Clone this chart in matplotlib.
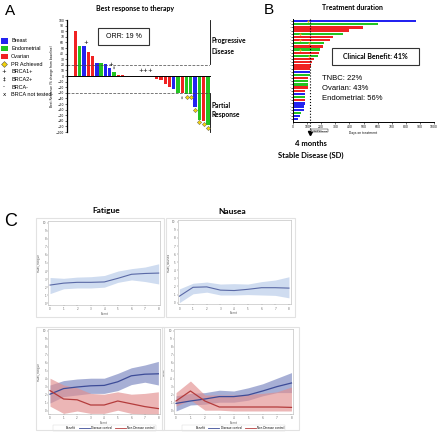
import matplotlib
matplotlib.use('Agg')
import matplotlib.pyplot as plt
from matplotlib.patches import Rectangle
from matplotlib.lines import Line2D

W, H = 440, 432
BOLD = 'Lato'
SANS = 'Liberation Sans'

# ---- panel A: best response (% change from baseline), one bar per patient
resp_values = [80, 54, 54, 42, 35, 24, 24, 22, 15, 8, 2, 1,
               0, 0, 0, 0, 0, 0, 0,
               -6, -8, -14, -20, -23, -30, -30, -33, -33, -55, -78, -80, -87]
resp_types = ['O', 'E', 'B', 'O', 'O', 'B', 'E', 'B', 'B', 'E', 'O', 'O',
              'O', 'O', 'O', 'O', 'O', 'O', 'O',
              'O', 'O', 'O', 'O', 'B', 'E', 'O', 'E', 'E', 'B', 'E', 'O', 'E']
pr_bars = [26, 27, 28, 29, 30, 31]
brca1_bars = [2, 8, 15, 16, 17]
brca2_bars = [9, 25]

# ---- panel B: treatment duration (days), one row per patient
dur_days = [873, 606, 493, 394, 358, 283, 264, 219, 212, 193, 184, 175, 146, 137, 127, 123,
            123, 123, 108, 106, 106, 104, 87, 87, 87, 83, 83, 75, 75, 59, 50, 35]
dur_types = ['B', 'E', 'O', 'O', 'E', 'O', 'O', 'E', 'O', 'E', 'O', 'E', 'O', 'O', 'O', 'O',
             'B', 'E', 'O', 'E', 'E', 'O', 'O', 'B', 'E', 'O', 'B', 'B', 'B', 'E', 'B', 'B']
pr_rows = [0, 4, 6, 7, 9, 11]
pr_days = [106, 52, 52, 110, 52, 110]

# ---- panel C: symptom scores by event
events = [0, 1, 2, 3, 4, 5, 6, 7, 8]
fat_all = [2.26, 2.5, 2.6, 2.6, 2.65, 3.1, 3.6, 3.7, 3.75]
fat_all_lo = [1.2, 1.8, 1.9, 1.9, 2.0, 2.6, 2.9, 2.7, 2.4]
fat_all_hi = [3.2, 3.1, 3.25, 3.3, 3.45, 4.0, 4.3, 4.5, 4.9]
nau_all = [0.8, 1.9, 1.95, 1.55, 1.5, 1.65, 1.85, 1.85, 1.8]
nau_all_lo = [0.0, 1.1, 1.3, 0.95, 0.95, 1.0, 0.95, 0.9, 0.6]
nau_all_hi = [1.7, 2.4, 2.55, 2.3, 2.35, 2.3, 2.6, 2.8, 3.2]

fat_dc = [2.1, 2.8, 3.0, 3.15, 3.2, 3.65, 4.4, 4.6, 4.65]
fat_dc_lo = [1.0, 1.8, 2.0, 2.2, 2.2, 2.55, 3.3, 3.6, 3.25]
fat_dc_hi = [3.25, 3.8, 4.0, 4.1, 4.1, 4.7, 5.4, 5.75, 6.2]
fat_ndc = [2.55, 1.5, 1.4, 0.75, 0.75, 1.25, 0.9, 0.55, 0.3]
fat_ndc_lo = [0.6, -0.3, 0.0, -0.3, -0.3, 0.1, -0.3, -0.4, -0.4]
fat_ndc_hi = [4.1, 3.25, 2.9, 2.2, 2.1, 2.4, 2.1, 2.2, 2.4]

nau_dc = [0.95, 1.25, 1.5, 1.8, 1.8, 2.0, 2.5, 3.05, 3.5]
nau_dc_lo = [0.0, 0.75, 0.85, 1.1, 1.1, 1.35, 1.9, 2.3, 2.3]
nau_dc_hi = [1.9, 2.2, 2.3, 2.6, 2.5, 2.9, 3.4, 4.1, 4.8]
nau_ndc = [1.25, 2.5, 1.25, 0.5, 0.5, 0.5, 0.5, 0.5, 0.45]
nau_ndc_lo = [0.6, 1.4, 0.1, 0.1, 0.0, 0.0, 0.0, 0.0, 0.0]
nau_ndc_hi = [2.3, 3.75, 2.0, 2.0, 2.0, 2.1, 2.2, 2.4, 3.0]

colors = {'B': '#2323f0', 'E': '#22c422', 'O': '#f02222'}
legend_items = ['Breast', 'Endometrial', 'Ovarian']

fig = plt.figure(figsize=(W / 100, H / 100), dpi=100)


def px_axes(x0, y0, x1, y1):
    return fig.add_axes([x0 / W, 1 - y1 / H, (x1 - x0) / W, (y1 - y0) / H])


# ================= A
axA = px_axes(67, 20, 210, 132)
idx = list(range(len(resp_values)))
axA.bar(idx, resp_values, width=0.78, color=[colors[t] for t in resp_types])
axA.set_xlim(-2, 31.5)
axA.set_ylim(-100, 100)
axA.set_facecolor('none')
for s in ['top', 'right']:
    axA.spines[s].set_visible(False)
axA.spines['bottom'].set_position(('data', 0))
axA.spines['bottom'].set_linewidth(0.7)
axA.spines['left'].set_linewidth(0.9)
axA.set_xticks([])
axA.set_yticks(range(-100, 101, 10))
axA.tick_params(axis='y', labelsize=2.2, length=1.5, width=0.4, pad=0.5)
axA.set_ylabel('Best Response (% change from baseline)', fontsize=2.2, labelpad=1)
for lvl in [20, -30]:
    axA.axhline(lvl, color='#444444', lw=0.5, ls=(0, (4, 2)))
axA.plot([31.6, 31.6], [22, 100], color='k', lw=0.6, clip_on=False)
axA.plot([31.6, 31.6], [-30, -100], color='k', lw=0.6, clip_on=False)
for i in brca1_bars:
    axA.text(i + 0.3, max(resp_values[i], 4) + 5, '+', fontsize=4, ha='center', va='center')
for i in brca2_bars:
    y = resp_values[i] + 6 if resp_values[i] > 0 else resp_values[i] - 8
    axA.text(i, y, '‡', fontsize=3, ha='center', va='center')
axA.plot(pr_bars, [resp_values[i] - 5 for i in pr_bars], 'D', ms=2.2,
         mfc='#f2d20a', mec='#555555', mew=0.3, clip_on=False)

# ================= B
axB = px_axes(293, 18.5, 434, 121.8)
rows = list(range(len(dur_days)))
axB.barh(rows, dur_days, height=0.75, color=[colors[t] for t in dur_types])
axB.set_ylim(31.8, -0.8)
axB.set_xlim(0, 1000)
axB.set_facecolor('none')
for s in ['top', 'right']:
    axB.spines[s].set_visible(False)
for s in ['left', 'bottom']:
    axB.spines[s].set_linewidth(0.7)
axB.set_xticks(range(0, 1001, 100))
axB.set_yticks(rows)
axB.set_yticklabels(['·'] * len(rows))
axB.tick_params(axis='y', labelsize=2.5, length=1.2, width=0.4, pad=0.5)
axB.tick_params(axis='x', labelsize=2.2, length=1.2, width=0.4, pad=0.8)
axB.set_xlabel('Days on treatment', fontsize=2.2, labelpad=1.5)
axB.plot([120, 120], [-0.8, 35.2], color='k', lw=0.8, ls=':', clip_on=False)
axB.plot([120], [35.4], 'v', ms=3, color='k', clip_on=False)
axB.text(128, 34.6, '4 months\nStable disease', fontsize=1.6, va='center', ha='left',
         bbox=dict(boxstyle='square,pad=0.2', fc='white', ec='k', lw=0.3))
axB.plot(pr_days, pr_rows, 'D', ms=1.4, mfc='#e0a020', mec='none')

# ================= C
def frame(x0, y0, x1, y1):
    ov.add_patch(Rectangle((x0, y0), x1 - x0, y1 - y0, fill=False, ec='#e2e2e2', lw=0.8))


def style_c(ax, ylab, ymin):
    ax.set_xlim(-0.12, 8.12)
    ax.set_ylim(ymin, 10.2)
    ax.set_xticks(events)
    ax.set_yticks(range(0, 11))
    ax.tick_params(labelsize=2, length=1, width=0.3, pad=0.6, colors='#666666')
    for s in ax.spines.values():
        s.set_color('#b5b5b5')
        s.set_linewidth(0.4)
    ax.set_ylabel(ylab, fontsize=2, labelpad=1.5, color='#555555')
    ax.set_xlabel('Event', fontsize=2, labelpad=0.5, color='#555555')


c1 = px_axes(48.4, 221.1, 160.3, 304.9)
c1.fill_between(events, fat_all_lo, fat_all_hi, color='#cfdcf0', lw=0)
c1.plot(events, fat_all, color='#5a69a6', lw=0.8)
style_c(c1, 'MDAs_Fatigue', -0.2)

c2 = px_axes(177.7, 220.1, 290.6, 304.3)
c2.fill_between(events, nau_all_lo, nau_all_hi, color='#cfdcf0', lw=0)
c2.plot(events, nau_all, color='#5a69a6', lw=0.8)
style_c(c2, 'MDAs_Nausea', -0.2)

blue_fill, blue_line = '#8a95c8', '#3d4c98'
red_fill, red_line = '#e28f8f', '#b43c3c'
for dc, dlo, dhi, nd, nlo, nhi, ylab, rect in [
        (fat_dc, fat_dc_lo, fat_dc_hi, fat_ndc, fat_ndc_lo, fat_ndc_hi,
         'MDAs_Fatigue', (48.4, 329.4, 160.0, 414.2)),
        (nau_dc, nau_dc_lo, nau_dc_hi, nau_ndc, nau_ndc_lo, nau_ndc_hi,
         'Score', (174.3, 329.4, 293.2, 414.2))]:
    ax = px_axes(*rect)
    ax.fill_between(events, dlo, dhi, color=blue_fill, alpha=0.75, lw=0)
    ax.fill_between(events, nlo, nhi, color=red_fill, alpha=0.65, lw=0)
    ax.plot(events, dc, color=blue_line, lw=0.9)
    ax.plot(events, nd, color=red_line, lw=0.9)
    style_c(ax, ylab, -0.4)
    handles = [Line2D([], [], color='none'), Line2D([], [], color=blue_line, lw=0.6),
               Line2D([], [], color=red_line, lw=0.6)]
    leg = ax.legend(handles, ['Benefit', 'Disease control', 'Non-Disease control'],
                    ncol=3, fontsize=2, loc='upper center', bbox_to_anchor=(0.5, -0.115),
                    frameon=True, handlelength=4, handletextpad=0.5, columnspacing=1,
                    borderpad=0.3, fancybox=False)
    leg.get_frame().set_linewidth(0.3)
    leg.get_frame().set_edgecolor('#cccccc')

# ================= overlay: labels, boxes, legend of A
ov = fig.add_axes([0, 0, 1, 1])
ov.set_xlim(0, W)
ov.set_ylim(H, 0)
ov.axis('off')
ov.patch.set_alpha(0)

frame(36, 218, 164, 317)
frame(165.7, 218, 295, 317)
frame(36, 327, 164, 430)
frame(162, 327, 299, 430)

ov.text(5, 11, 'A', fontsize=11, family=SANS, va='center', ha='left')
ov.text(264, 10, 'B', fontsize=11, family=SANS, va='center', ha='left')
ov.text(4, 221, 'C', fontsize=13, family=SANS, va='center', ha='left')

ov.text(135, 8, 'Best response to therapy', fontsize=5, family=BOLD, weight='bold', ha='center', va='center')
ov.text(352, 8, 'Treatment duration', fontsize=5, family=BOLD, weight='bold', ha='center', va='center')
ov.text(106, 211, 'Fatigue', fontsize=6, family=BOLD, weight='bold', ha='center', va='center')
ov.text(232, 211, 'Nausea', fontsize=6, family=BOLD, weight='bold', ha='center', va='center')

ov.add_patch(Rectangle((98, 28), 51, 17, fill=False, ec='#333333', lw=0.8))
ov.text(123.5, 36.5, 'ORR: 19 %', fontsize=5, family=SANS, ha='center', va='center')
ov.text(211, 46, 'Progressive\nDisease', fontsize=4.8, family=BOLD, weight='bold',
        ha='left', va='center', linespacing=1.5)
ov.text(212, 110, 'Partial\nResponse', fontsize=4.8, family=BOLD, weight='bold',
        ha='left', va='center', linespacing=1.5)

# legend of panel A
leg_y = [41, 48.7, 56.4]
for lab, y in zip(legend_items, leg_y):
    ov.add_patch(Rectangle((0.5, y - 2.8), 7, 5.6, color=colors[lab[0]], lw=0))
    ov.text(11, y, lab, fontsize=4, family=SANS, va='center')
ov.plot([4], [64], 'D', ms=3, mfc='#f2d20a', mec='#555555', mew=0.4)
ov.text(11, 64, 'PR Achieved', fontsize=4, family=SANS, va='center')
for sym, lab, y in [('+', 'BRCA1+', 71.7), ('‡', 'BRCA2+', 79.4),
                    ('-', 'BRCA-', 87.1), ('x', 'BRCA not tested', 94.8)]:
    ov.text(4, y, sym, fontsize=4, family='DejaVu Sans', ha='center', va='center')
    ov.text(11, y, lab, fontsize=4, family=SANS, va='center')

# panel B texts
ov.add_patch(Rectangle((332, 48), 87, 17, fill=False, ec='#333333', lw=0.8))
ov.text(375.5, 56.5, 'Clinical Benefit: 41%', fontsize=5, family=BOLD, weight='bold',
        ha='center', va='center')
for txt, y in [('TNBC: 22%', 79), ('Ovarian: 43%', 88.5), ('Endometrial: 56%', 98)]:
    ov.text(322, y, txt, fontsize=5.5, family=SANS, va='center', ha='left')
ov.text(310.5, 143, '4 months', fontsize=5.5, family=BOLD, weight='bold', ha='center', va='center')
ov.text(310.5, 155, 'Stable Disease (SD)', fontsize=5.5, family=BOLD, weight='bold',
        ha='center', va='center')

fig.savefig('out.png', dpi=100)
